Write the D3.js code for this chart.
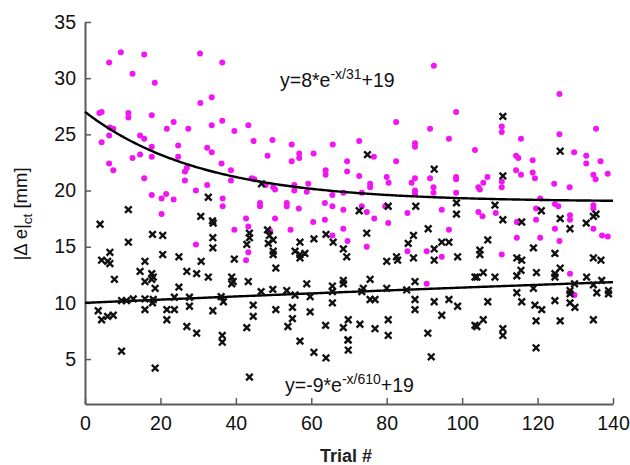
<!DOCTYPE html>
<html>
<head>
<meta charset="utf-8">
<script src="https://cdn.jsdelivr.net/npm/d3@7"></script>
<style>
  html, body { margin: 0; padding: 0; background: #fff; }
  svg { display: block; font-family: "Liberation Sans", Arial, sans-serif; }
</style>
</head>
<body>
<svg id="chart" width="630" height="465"></svg>
<script>
// ---------------- data ----------------
const xTicks = [0, 20, 40, 60, 80, 100, 120, 140];
const yTicks = [5, 10, 15, 20, 25, 30, 35];
const xLabel = "Trial #";

// magenta points: [trial, |Δe|ct]
const magentaPoints = [
  [3.8,26.9],[4.4,27.0],[4.4,24.3],[6.4,31.4],[6.4,24.9],[6.6,25.6],[7.5,25.5],[6.4,22.4],[7.5,21.8],
  [9.5,32.3],[11.5,26.9],[11.5,26.5],[12.6,30.4],[12.6,22.9],[14.6,24.9],[15.7,24.6],[14.6,23.2],
  [15.7,32.1],[15.7,21.1],[17.7,26.7],[17.7,23.9],[17.7,23.0],[17.7,19.6],[18.5,29.6],[20.3,19.3],
  [21.5,19.7],[20.3,17.9],[21.7,25.5],[23.5,26.1],[23.5,19.2],[24.7,24.0],[24.7,23.0],[26.5,21.7],
  [27.0,22.0],[26.5,20.9],[27.4,25.5],[29.4,20.0],[29.4,15.2],[30.5,32.2],[30.6,27.8],[32.4,20.5],
  [32.4,23.8],[33.6,23.4],[33.6,28.3],[33.6,25.8],[36.4,31.4],[36.4,26.2],[36.2,22.4],[38.7,21.8],
  [38.7,20.9],[39.6,25.3],[36.5,19.3],[36.5,18.6],[43.3,25.8],[44.7,24.4],[48.4,23.1],[49.7,24.5],
  [44.2,21.1],[44.9,21.0],[47.9,20.5],[49.9,20.3],[50.4,20.1],[46.4,18.9],[46.4,18.6],[42.7,17.5],
  [50.4,17.5],[53.5,18.9],[53.5,18.6],[54.8,24.1],[54.8,22.6],[56.8,23.3],[56.8,22.9],[55.5,20.5],
  [55.5,20.0],[59.2,20.6],[58.8,19.9],[56.7,18.4],[60.6,23.3],[60.5,17.2],[63.8,21.8],[63.8,21.4],
  [65.7,24.1],[65.6,19.6],[63.6,18.9],[65.6,18.6],[63.6,17.4],[68.5,19.8],[68.5,18.3],[69.5,22.6],
  [69.5,21.7],[68.5,16.6],[39.6,16.5],[43.3,14.5],[42.7,13.8],[43.3,16.8],[49.1,16.4],[54.5,16.5],
  [65.6,16.0],[69.6,15.5],[72.7,24.4],[76.6,23.0],[82.5,26.1],[82.5,22.6],[72.7,21.3],[80.0,21.2],
  [80.5,20.7],[75.6,20.6],[75.6,20.3],[87.5,24.2],[87.5,23.9],[87.5,21.1],[86.6,20.7],[87.5,20.0],
  [87.5,19.7],[91.5,25.5],[91.5,21.1],[92.4,20.3],[92.4,19.8],[92.5,31.1],[96.5,24.6],[98.4,27.0],
  [98.4,21.2],[98.4,21.0],[98.4,19.8],[103.4,23.6],[104.3,20.3],[73.4,19.8],[73.4,18.6],[74.7,18.1],
  [79.6,18.6],[85.5,18.0],[76.7,17.5],[80.4,17.1],[94.6,18.3],[104.3,18.1],[96.5,16.5],[74.7,15.0],
  [85.5,14.6],[90.6,14.6],[94.6,14.1],[90.6,11.7],[125.8,28.6],[135.5,25.5],[125.8,25.0],[110.5,25.7],
  [110.5,25.2],[115.6,24.6],[129.7,23.4],[132.9,23.1],[132.9,22.4],[136.7,22.6],[114.3,23.1],
  [114.9,22.9],[118.7,22.7],[114.3,21.8],[115.6,21.4],[118.7,21.6],[119.3,21.1],[106.7,21.2],
  [105.6,20.7],[104.7,20.1],[110.5,20.8],[110.5,20.3],[124.4,20.6],[128.5,20.3],[134.8,21.4],
  [135.4,21.0],[138.6,21.5],[120.7,19.3],[105.4,17.7],[108.9,18.0],[119.6,18.4],[119.6,17.4],
  [124.6,18.8],[125.5,18.6],[128.6,17.8],[128.6,17.4],[114.5,17.2],[134.8,18.7],[134.8,18.4],
  [124.6,16.6],[134.8,16.6],[114.5,15.8],[120.7,15.8],[110.5,14.3],[125.8,15.5],[137.1,16.0],
  [138.6,15.9],[128.6,12.6],[129.8,10.7]
];

// black points: [trial, |Δe|ct]
const blackPoints = [
  [4.0,17.0],[11.5,18.3],[17.9,16.1],[20.6,16.0],[34.0,17.1],[33.9,15.8],[33.9,14.9],[32.7,19.4],
  [30.7,17.7],[33.8,17.3],[6.6,14.5],[4.4,13.8],[6.0,13.7],[6.6,13.5],[20.6,14.3],[24.9,14.1],
  [15.9,13.7],[30.8,13.7],[11.5,15.4],[7.8,12.1],[14.6,12.8],[17.7,12.6],[18.1,12.3],[15.9,11.9],
  [17.7,12.1],[18.6,11.3],[27.0,12.8],[29.6,12.6],[32.7,12.3],[24.9,11.4],[9.7,10.2],[12.8,10.35],
  [15.9,10.35],[18.1,10.3],[23.7,10.5],[27.7,10.5],[11.0,10.2],[3.5,9.3],[4.4,8.5],[6.0,8.8],
  [7.5,8.9],[15.9,9.4],[17.9,10.0],[21.7,9.4],[23.7,9.4],[21.7,8.5],[27.7,9.7],[27.0,7.9],
  [29.6,7.3],[33.9,9.3],[9.7,5.7],[18.6,4.2],[43.6,16.2],[43.6,15.8],[42.9,15.2],[48.4,16.5],
  [48.9,16.0],[48.6,15.3],[49.9,15.6],[49.9,14.6],[49.9,14.3],[50.6,13.1],[57.0,15.4],[55.7,14.6],
  [57.0,14.3],[58.3,14.4],[57.0,14.0],[60.7,15.7],[63.9,16.1],[65.8,15.4],[68.5,14.8],[39.6,13.9],
  [38.9,12.3],[39.3,11.9],[38.9,11.7],[43.3,11.9],[58.8,11.7],[68.5,12.0],[68.5,11.7],[46.7,11.0],
  [49.8,11.2],[53.5,11.1],[55.7,10.7],[59.7,10.55],[65.6,11.5],[65.6,11.0],[36.1,10.55],[36.7,10.1],
  [44.6,9.8],[44.6,8.8],[50.6,9.4],[55.0,9.6],[55.0,8.6],[53.8,7.9],[59.7,9.2],[65.6,10.0],
  [63.8,8.0],[68.5,7.8],[42.9,7.8],[36.4,7.1],[36.4,6.5],[57.0,6.6],[60.7,5.6],[63.9,5.1],
  [69.7,6.7],[43.6,3.4],[46.8,20.6],[74.9,23.2],[92.6,21.9],[72.7,18.2],[80.4,18.6],[87.7,18.6],
  [98.5,18.9],[98.5,17.9],[91.0,16.6],[74.7,16.2],[87.1,16.0],[85.7,15.3],[87.1,14.0],[94.6,15.4],
  [96.5,15.4],[92.6,14.8],[92.6,13.8],[98.8,14.1],[82.6,14.1],[82.9,13.8],[80.0,13.7],[69.4,14.1],
  [75.6,12.1],[87.5,11.9],[103.4,12.3],[73.8,11.3],[73.4,11.0],[80.0,11.3],[85.3,11.15],[75.6,10.3],
  [76.9,10.3],[87.5,10.3],[87.5,9.4],[92.6,10.1],[94.6,8.9],[96.5,10.3],[98.8,9.7],[69.8,8.5],
  [72.9,8.1],[76.9,7.7],[80.4,8.5],[80.4,7.1],[69.8,6.7],[69.8,5.8],[90.9,7.3],[91.8,5.2],
  [103.4,8.0],[110.8,26.6],[126.0,23.5],[110.8,21.3],[108.7,18.7],[110.8,17.4],[115.8,17.2],
  [121.0,18.2],[126.0,17.5],[135.5,17.9],[134.8,17.7],[132.9,17.1],[128.6,16.6],[106.8,15.6],
  [104.7,14.7],[104.7,14.3],[118.9,14.9],[124.6,14.4],[114.5,14.0],[115.8,13.8],[115.6,12.9],
  [134.8,14.0],[136.8,13.8],[126.0,13.1],[124.6,12.6],[124.6,12.3],[105.6,12.7],[103.9,12.3],
  [108.7,12.3],[114.5,12.4],[119.7,12.7],[133.0,12.3],[137.0,12.0],[129.8,11.7],[128.6,11.1],
  [128.6,10.8],[134.8,11.6],[118.9,11.3],[135.7,10.9],[138.8,11.1],[138.8,10.8],[114.5,10.9],
  [115.8,10.1],[106.8,10.1],[119.3,9.8],[121.1,9.4],[124.6,10.2],[128.6,10.0],[129.9,9.6],
  [105.6,8.5],[103.9,7.9],[110.8,7.7],[110.8,7.1],[119.6,8.4],[126.0,8.4],[134.8,8.5],[119.6,6.0]
];

// fitted curves as printed on the chart: y = a*exp(-x/tau) + c
const fitUpper = { a: 8, tau: 31, c: 19 };
const fitLower = { a: -9, tau: 610, c: 19 };

// ---------------- chart ----------------
const svg = d3.select("#chart");
const x = d3.scaleLinear().domain([0, 140]).range([85, 613]);
const y = d3.scaleLinear().domain([1, 35]).range([404, 22]);
const axisColor = "#5a5a5a";

// axes
const gx = svg.append("g").attr("transform", `translate(0,${y(1)})`)
  .call(d3.axisBottom(x).tickValues(xTicks).tickSizeInner(-6).tickSizeOuter(0).tickPadding(12));
const gy = svg.append("g").attr("transform", `translate(${x(0)},0)`)
  .call(d3.axisLeft(y).tickValues(yTicks).tickSizeInner(-6).tickSizeOuter(0).tickPadding(9));
[gx, gy].forEach(g => {
  g.select(".domain").attr("stroke", axisColor).attr("stroke-width", 2);
  g.selectAll(".tick line").attr("stroke", axisColor).attr("stroke-width", 1.5);
  g.selectAll(".tick text").attr("fill", "#111").style("font-size", "19.5px")
    .style("font-family", "'Liberation Sans', Arial, sans-serif");
});

// magenta markers
svg.append("g").selectAll("circle").data(magentaPoints).join("circle")
  .attr("cx", d => x(d[0])).attr("cy", d => y(d[1])).attr("r", 3)
  .attr("fill", "#f214f2");

// fitted lines
const xs = d3.range(0, 140.01, 0.5);
const lineGen = d3.line().x(d => x(d[0])).y(d => y(d[1]));
[fitUpper, fitLower].forEach(f => {
  svg.append("path")
    .datum(xs.map(v => [v, f.a * Math.exp(-v / f.tau) + f.c]))
    .attr("d", lineGen).attr("fill", "none").attr("stroke", "#000").attr("stroke-width", 2.4);
});

// black x markers
const s = 3.3;
svg.append("g").selectAll("path").data(blackPoints).join("path")
  .attr("d", d => {
    const cx = x(d[0]), cy = y(d[1]);
    return `M${cx - s},${cy - s}L${cx + s},${cy + s}M${cx - s},${cy + s}L${cx + s},${cy - s}`;
  })
  .attr("stroke", "#111").attr("stroke-width", 2.4).attr("fill", "none");

// equations
function equation(xp, yp, pre, sup, post) {
  const t = svg.append("text").attr("x", xp).attr("y", yp)
    .style("font-size", "19.5px").attr("fill", "#111");
  t.append("tspan").text(pre);
  t.append("tspan").attr("dy", -8).style("font-size", "14px").text(sup);
  t.append("tspan").attr("dy", 8).text(post);
}
equation(280, 87, "y=8*e", "-x/31", "+19");
equation(285, 392, "y=-9*e", "-x/610", "+19");

// axis labels
svg.append("text").attr("x", 346).attr("y", 462).attr("text-anchor", "middle")
  .style("font-size", "18px").style("font-weight", "bold").attr("fill", "#222").text(xLabel);

const yl = svg.append("text").attr("transform", "translate(27,214) rotate(-90)")
  .attr("text-anchor", "middle").style("font-size", "18.5px").attr("fill", "#111");
yl.append("tspan").text("|\u0394 e|");
yl.append("tspan").attr("dy", 5).style("font-size", "13.5px").text("ct");
yl.append("tspan").attr("dy", -5).text(" [mm]");
</script>
</body>
</html>
